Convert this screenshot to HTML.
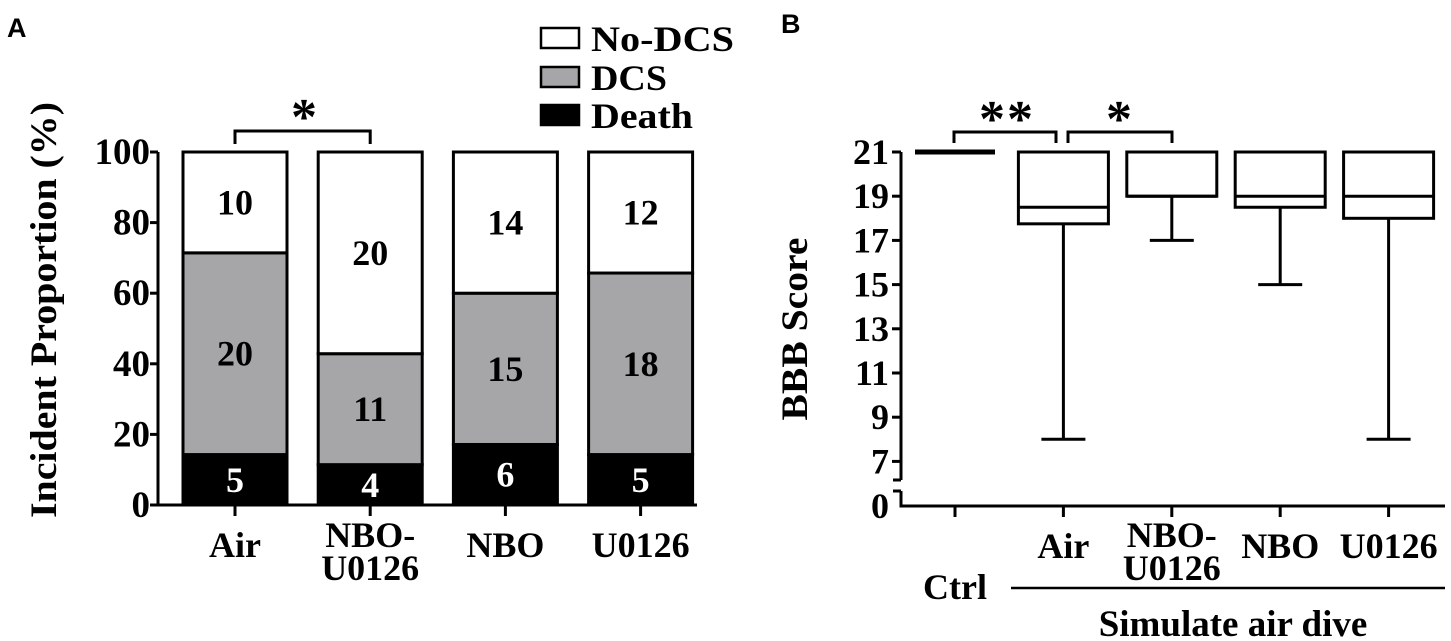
<!DOCTYPE html>
<html><head><meta charset="utf-8"><style>
html,body{margin:0;padding:0;background:#fff;}
svg{display:block;}
text{font-family:"Liberation Serif",serif;font-weight:bold;fill:#000;}
.sans{font-family:"Liberation Sans",sans-serif;}
</style></head><body>
<svg id="chart" width="1451" height="641" viewBox="0 0 1451 641" xmlns="http://www.w3.org/2000/svg">
<text class="sans" x="7" y="37" font-size="27">A</text>
<text class="sans" x="781" y="33" font-size="27">B</text>
<g id="pa"></g>
<g id="pb"></g>
</svg>
<script>
// Panel A data
const aCategories = ["Air", "NBO-U0126", "NBO", "U0126"];
const aDeath = [5, 4, 6, 5];
const aDCS = [20, 11, 15, 18];
const aNoDCS = [10, 20, 14, 12];
const aTicks = [0, 20, 40, 60, 80, 100];
// Panel B data
const bCategories = ["Ctrl", "Air", "NBO-U0126", "NBO", "U0126"];
const bMin = [21, 8, 17, 15, 8];
const bQ1 = [21, 17.75, 19, 18.5, 18];
const bMedian = [21, 18.5, 19, 19, 19];
const bQ3 = [21, 21, 21, 21, 21];
const bMax = [21, 21, 21, 21, 21];
const bTicks = [7, 9, 11, 13, 15, 17, 19, 21];

const NS = "http://www.w3.org/2000/svg";
function mk(parent, tag, attrs, txt) {
  const e = document.createElementNS(NS, tag);
  for (const k in attrs) e.setAttribute(k, attrs[k]);
  if (txt !== undefined) e.textContent = txt;
  parent.appendChild(e);
  return e;
}
// ---------- Panel A ----------
const pa = document.getElementById("pa");
const ayScale = v => 505 - v * 3.53;
const axCenter = i => 235 + i * 135.2;
const barW = 104;
aCategories.forEach((c, i) => {
  const tot = aDeath[i] + aDCS[i] + aNoDCS[i];
  const p1 = aDeath[i] / tot * 100, p2 = (aDeath[i] + aDCS[i]) / tot * 100;
  const x = axCenter(i) - barW / 2;
  const segs = [[0, p1, "#000", "#fff", aDeath[i], "death"], [p1, p2, "#a6a6a8", "#000", aDCS[i], "dcs"], [p2, 100, "#fff", "#000", aNoDCS[i], "no-dcs"]];
  segs.forEach(s => {
    const r = mk(pa, "rect", {x: x, y: ayScale(s[1]), width: barW, height: ayScale(s[0]) - ayScale(s[1]), fill: s[2], stroke: "#000", "stroke-width": 3});
    
    
    const t = mk(pa, "text", {x: axCenter(i), y: (ayScale(s[0]) + ayScale(s[1])) / 2 + 12, "font-size": 36, "text-anchor": "middle", style: "fill:" + s[3]}, s[4]);
    
    
  });
  mk(pa, "line", {x1: axCenter(i), x2: axCenter(i), y1: 505, y2: 516, stroke: "#000", "stroke-width": 3});
  if (c === "NBO-U0126") {
    const t1 = mk(pa, "text", {x: axCenter(i), y: 547, "font-size": 36, "text-anchor": "middle"}, "NBO-");
    
    
    const t2 = mk(pa, "text", {x: axCenter(i), y: 580, "font-size": 36, "text-anchor": "middle"}, "U0126");
    
    
  } else {
    const t = mk(pa, "text", {x: axCenter(i), y: 557, "font-size": 36, "text-anchor": "middle"}, c);
    
    
  }
});
const aAxis = mk(pa, "path", {d: "M158 152 V505 H697", fill: "none", stroke: "#000", "stroke-width": 3});


aTicks.forEach(v => {
  mk(pa, "line", {x1: 150, x2: 158, y1: ayScale(v), y2: ayScale(v), stroke: "#000", "stroke-width": 3});
  const t = mk(pa, "text", {x: 150, y: ayScale(v) + 12, "font-size": 37, "text-anchor": "end"}, v);
  
  
});
const aTitle = mk(pa, "text", {transform: "translate(56,310) rotate(-90)", "font-size": 37, "text-anchor": "middle", textLength: 416, lengthAdjust: "spacingAndGlyphs"}, "Incident Proportion (%)");


const aBr = mk(pa, "path", {d: `M${axCenter(0)} 144 V131 H${axCenter(1)} V144`, fill: "none", stroke: "#000", "stroke-width": 3});


const aStar = mk(pa, "text", {x: 304, y: 134, "font-size": 52, "text-anchor": "middle"}, "*");


[["No-DCS", "#fff", 38, 143], ["DCS", "#a6a6a8", 77, 76], ["Death", "#000", 115, 102]].forEach(l => {
  const g = mk(pa, "g", {});
  
  
  mk(g, "rect", {x: 541, y: l[2] - 10, width: 38, height: 20, fill: l[1], stroke: "#000", "stroke-width": 2.5});
  mk(g, "text", {x: 591, y: l[2] + 13, "font-size": 36, textLength: l[3], lengthAdjust: "spacingAndGlyphs"}, l[0]);
});
// ---------- Panel B ----------
const pb = document.getElementById("pb");
const byScale = v => 152 + (21 - v) * 22.1;
const bxCenter = i => 955 + i * 108.4;
const bAxis = mk(pb, "path", {d: "M901 152 V480 M901 491 V506 H1445", fill: "none", stroke: "#000", "stroke-width": 3});


mk(pb, "path", {d: "M893 480 H901 M893 491 H901", stroke: "#000", "stroke-width": 3});
bTicks.forEach(v => {
  mk(pb, "line", {x1: 892, x2: 901, y1: byScale(v), y2: byScale(v), stroke: "#000", "stroke-width": 3});
  const t = mk(pb, "text", {x: 889, y: byScale(v) + 12, "font-size": 36, "text-anchor": "end"}, v);
  
  
});
const z = mk(pb, "text", {x: 889, y: 518, "font-size": 36, "text-anchor": "end"}, "0");


const bTitle = mk(pb, "text", {transform: "translate(807,329) rotate(-90)", "font-size": 37, "text-anchor": "middle", textLength: 183, lengthAdjust: "spacingAndGlyphs"}, "BBB Score");


bCategories.forEach((c, i) => {
  const cx = bxCenter(i);
  mk(pb, "line", {x1: cx, x2: cx, y1: 506, y2: 517, stroke: "#000", "stroke-width": 3});
  const g = mk(pb, "g", {fill: "none", stroke: "#000", "stroke-width": 3});
  
  
  if (bQ1[i] === bQ3[i] && bMin[i] === bMax[i]) {
    mk(g, "line", {x1: cx - 40, x2: cx + 40, y1: byScale(bMedian[i]), y2: byScale(bMedian[i]), "stroke-width": 5});
  } else {
    const hw = 45;
    mk(g, "rect", {x: cx - hw, y: byScale(bQ3[i]), width: hw * 2, height: byScale(bQ1[i]) - byScale(bQ3[i]), fill: "#fff"});
    mk(g, "line", {x1: cx - hw, x2: cx + hw, y1: byScale(bMedian[i]), y2: byScale(bMedian[i])});
    mk(g, "line", {x1: cx, x2: cx, y1: byScale(bQ1[i]), y2: byScale(bMin[i])});
    mk(g, "line", {x1: cx - 22, x2: cx + 22, y1: byScale(bMin[i]), y2: byScale(bMin[i])});
    mk(g, "line", {x1: cx, x2: cx, y1: byScale(bQ3[i]), y2: byScale(bMax[i])});
  }
  if (i === 0) {
    const t = mk(pb, "text", {x: cx, y: 599, "font-size": 36, "text-anchor": "middle"}, c);
    
    
  } else if (c === "NBO-U0126") {
    const t1 = mk(pb, "text", {x: cx, y: 547, "font-size": 36, "text-anchor": "middle"}, "NBO-");
    
    
    const t2 = mk(pb, "text", {x: cx, y: 580, "font-size": 36, "text-anchor": "middle"}, "U0126");
    
    
  } else {
    const t = mk(pb, "text", {x: cx, y: 558, "font-size": 36, "text-anchor": "middle"}, c);
    
    
  }
});
const grpLine = mk(pb, "line", {x1: 1011, x2: 1445, y1: 588, y2: 588, stroke: "#000", "stroke-width": 2.5});


const grpT = mk(pb, "text", {x: 1233, y: 636, "font-size": 37, "text-anchor": "middle"}, "Simulate air dive");


const br1 = mk(pb, "path", {d: "M954 143 V132 H1056 V143", fill: "none", stroke: "#000", "stroke-width": 3});


const br2 = mk(pb, "path", {d: "M1068 143 V132 H1172 V143", fill: "none", stroke: "#000", "stroke-width": 3});


const s1 = mk(pb, "text", {x: 1007, y: 136, "font-size": 52, "text-anchor": "middle", "letter-spacing": 2}, "**");


const s2 = mk(pb, "text", {x: 1119, y: 136, "font-size": 52, "text-anchor": "middle"}, "*");


</script>
</body></html>
